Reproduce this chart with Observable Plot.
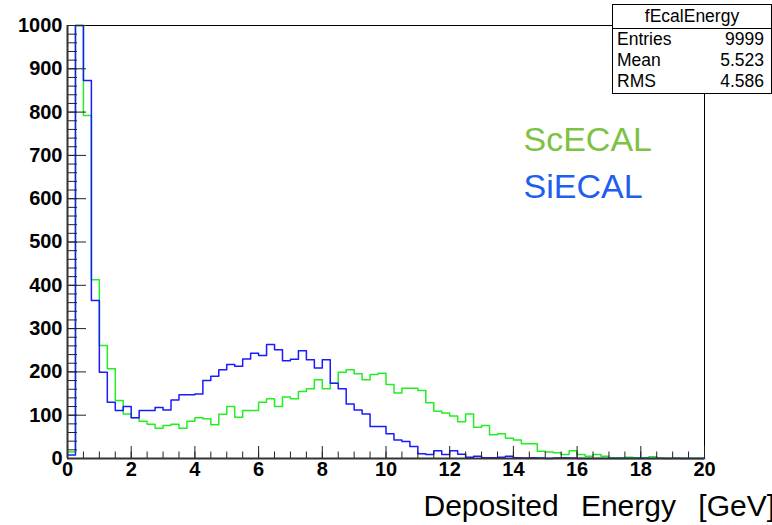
<!DOCTYPE html>
<html><head><meta charset="utf-8">
<script src="https://cdn.jsdelivr.net/npm/d3@7"></script>
<script src="https://cdn.jsdelivr.net/npm/@observablehq/plot@0.6"></script>
<style>
body{margin:0;overflow:hidden;background:#fff;}
#wrap{position:relative;width:772px;height:525px;overflow:hidden;}
#stats{position:absolute;left:612px;top:4px;width:158px;height:88px;border:1px solid #000;background:#fff;font-family:"Liberation Sans",Arial,sans-serif;font-size:17.5px;color:#000;line-height:21px;}
#stats .t{text-align:center;height:23px;line-height:23px;border-bottom:1px solid #000;}
#stats .r{display:flex;justify-content:space-between;padding:0 7px 0 4px;height:21px;}
</style></head>
<body><div id="wrap"></div>
<script>
// bin lower edges (GeV), 80 bins of 0.25 GeV
const binLow = d3.range(0, 20, 0.25);
const xMax = 20;
// ScECAL (green) counts per bin
const scECAL = [15,1990,792,413,261,207,134,103,94,86,
  79,70,76,79,70,86,94,92,78,102,
  120,95,111,111,130,138,120,142,138,155,
  161,182,161,174,199,205,196,182,194,197,
  171,151,162,162,157,129,109,105,98,85,
  103,72,76,55,57,47,43,34,34,17,
  15,13,9,18,9,5,9,5,2,2,
  3,2,2,4,1,0,1,0,0,0];
// SiECAL (blue) counts per bin
const siECAL = [8,2380,873,365,199,130,111,120,94,111,
  111,118,112,135,147,147,149,180,190,205,
  217,213,230,243,238,263,251,226,229,249,
  228,209,228,174,161,126,112,103,74,74,
  57,43,39,28,11,9,18,9,18,10,
  3,5,2,2,3,5,2,1,2,1,
  0,1,2,1,0,0,0,0,0,0,
  0,0,0,0,0,0,0,0,0,0];
const yMajor = [0,100,200,300,400,500,600,700,800,900,1000];
const yMinor = d3.range(0, 1001, 20);
const xMajor = [0,2,4,6,8,10,12,14,16,18,20];
const xMinor = d3.range(0, 20.01, 0.5);
const seriesNames = ["ScECAL", "SiECAL"];
const lineColors = ["#22ee22", "#1a1aff"];
const labelColors = ["#7dc242", "#1e5ef0"];
const statsTitle = "fEcalEnergy";
const statsRows = [["Entries","9999"],["Mean","5.523"],["RMS","4.586"]];
const xTitle = "Deposited Energy [GeV]";

function pts(vals){
  const p = binLow.map((x,i)=>({x, y: vals[i]}));
  p.push({x: xMax, y: vals[vals.length-1]});
  return p;
}

const font = "Liberation Sans, Arial, Helvetica, sans-serif";
const plot = Plot.plot({
  width: 772, height: 525,
  marginLeft: 67, marginRight: 68, marginTop: 25, marginBottom: 67,
  x: {domain: [0, xMax]},
  y: {domain: [0, 1000], clamp: true},
  style: {fontFamily: font, background: "white", color: "black"},
  marks: [
    Plot.frame({stroke: "black", strokeWidth: 1}),
    Plot.line(pts(scECAL), {x: "x", y: "y", curve: "step-after", stroke: lineColors[0], strokeWidth: 1.5}),
    Plot.line(pts(siECAL), {x: "x", y: "y", curve: "step-after", stroke: lineColors[1], strokeWidth: 1.5}),
    Plot.axisY(yMinor, {tickSize: -10, text: null, label: null, stroke: "#222"}),
    Plot.axisY(yMajor, {tickSize: -19, text: null, label: null, stroke: "#222"}),
    Plot.axisY(yMajor, {tickSize: 0, tickPadding: 5, label: null, fontSize: 20, fontWeight: "bold", tickFormat: d => String(d)}),
    Plot.axisX(xMinor, {tickSize: -6.5, text: null, label: null, stroke: "#222"}),
    Plot.axisX(xMajor, {tickSize: -12, text: null, label: null, stroke: "#222"}),
    Plot.axisX(xMajor, {tickSize: 0, tickPadding: 3, label: null, fontSize: 20, fontWeight: "bold", tickFormat: d => String(d)}),
    Plot.ruleX([0], {stroke: "#333", strokeWidth: 2}),
    Plot.ruleY([0], {stroke: "#333", strokeWidth: 2}),
    Plot.text([seriesNames[0]], {frameAnchor: "top-left", dx: 456, dy: 101, textAnchor: "start", fontSize: 34, fill: labelColors[0]}),
    Plot.text([seriesNames[1]], {frameAnchor: "top-left", dx: 456, dy: 148, textAnchor: "start", fontSize: 34, fill: labelColors[1]}),
    Plot.text([xTitle], {frameAnchor: "bottom-left", dx: 356, dy: 57, textAnchor: "start", fontSize: 30, fill: "black", wordSpacing: "14px"})
  ]
});
// word spacing for the axis title (Plot.text passes no wordSpacing attribute itself)
d3.select(plot).selectAll("text").filter(function(){ return this.textContent === xTitle; }).style("word-spacing", "14px");
const wrap = document.getElementById("wrap");
wrap.appendChild(plot);
const st = document.createElement("div");
st.id = "stats";
st.innerHTML = `<div class="t">${statsTitle}</div>` + statsRows.map(r => `<div class="r"><span>${r[0]}</span><span>${r[1]}</span></div>`).join("");
wrap.appendChild(st);
</script>
</body></html>
